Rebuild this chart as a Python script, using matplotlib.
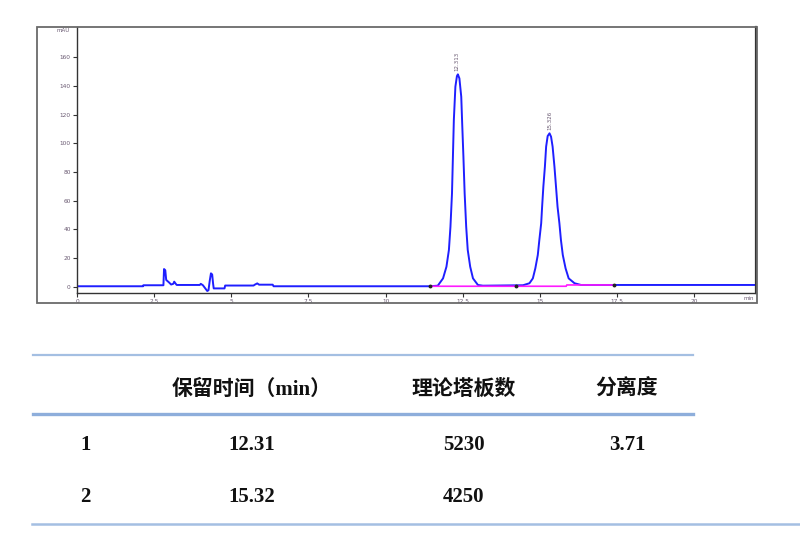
import matplotlib
matplotlib.use("Agg")
import matplotlib.pyplot as plt
from matplotlib.lines import Line2D
from matplotlib.patches import Rectangle

# ---------------- data ----------------
trace_t = [0.0, 2.14, 2.15, 2.80, 2.82, 2.86, 2.89, 2.98, 3.05, 3.12, 3.15, 3.20, 3.23,
           3.98, 4.01, 4.08, 4.15, 4.22, 4.26, 4.30, 4.34, 4.38, 4.41, 4.43, 4.78, 4.80,
           5.72, 5.76, 5.84, 5.90, 6.34, 6.37, 11.44,
           11.69, 11.86, 11.97, 12.05, 12.10, 12.15, 12.18, 12.21, 12.26, 12.31, 12.34,
           12.39, 12.45, 12.48, 12.52, 12.56, 12.61, 12.66, 12.74, 12.83, 12.99, 13.15,
           14.45, 14.66, 14.77, 14.85, 14.93, 14.98, 15.04, 15.07, 15.11, 15.16, 15.20,
           15.25, 15.31, 15.36, 15.41, 15.47, 15.52, 15.57, 15.63, 15.68, 15.74, 15.83,
           15.93, 16.12, 16.33, 22.0]
trace_a = [0.3, 0.3, 1.0, 1.0, 12.3, 11.5, 4.7, 3.0, 1.5, 2.0, 3.5, 2.0, 1.2,
           1.2, 2.0, 1.0, -1.0, -3.0, -2.5, 4.0, 9.3, 8.5, 2.0, -1.2, -1.2, 0.8,
           0.8, 1.4, 2.3, 1.4, 1.4, 0.3, 0.3,
           0.7, 5.8, 13.9, 25.6, 41.8, 65.1, 90.6, 116.2, 139.4, 146.8, 148.0,
           145.2, 132.4, 113.9, 90.6, 65.1, 41.8, 25.6, 13.9, 5.8, 1.2, 0.7,
           1.0, 2.4, 5.8, 12.8, 22.1, 32.5, 44.2, 55.7, 69.7, 83.6, 97.6,
           105.0, 106.9, 104.5, 97.6, 83.6, 69.7, 55.7, 44.2, 32.5, 22.1, 12.8,
           5.8, 2.4, 1.2, 1.2]

baseline_t = [11.44, 14.23, 15.85, 15.87, 17.41]
baseline_a = [0.3, 0.3, 0.3, 1.2, 1.2]
marker_t = [11.44, 14.23, 17.41]
marker_a = [0.3, 0.3, 1.2]

peak_t = [12.31, 15.31]
peak_a = [148.0, 106.9]
peak_labels = ["12.313", "15.326"]

x_ticks = [0, 2.5, 5, 7.5, 10, 12.5, 15, 17.5, 20]
x_tick_labels = ["0", "2.5", "5", "7.5", "10", "12.5", "15", "17.5", "20"]
y_ticks = [0, 20, 40, 60, 80, 100, 120, 140, 160]
y_tick_labels = ["0", "20", "40", "60", "80", "100", "120", "140", "160"]

headers = ["保留时间（min）", "理论塔板数", "分离度"]
row_ids = ["1", "2"]
retention = ["12.31", "15.32"]
plates = ["5230", "4250"]
resolution = ["3.71", ""]

# ---------------- figure ----------------
W, H = 800, 545
fig = plt.figure(figsize=(8, 5.45), dpi=100)
fig.patch.set_facecolor("white")

def fx(px):
    return px / W

def fy(py):
    return 1 - py / H

# outer frame of chromatogram
fig.patches.append(Rectangle((fx(37), fy(303)), fx(757) - fx(37), fy(27) - fy(303),
                             transform=fig.transFigure, fill=False,
                             edgecolor="#6a6a6a", linewidth=1.3, zorder=0))

ax = fig.add_axes([fx(77), fy(293), fx(756) - fx(77), fy(27) - fy(293)])
ax.set_xlim(0, 22)
ax.set_ylim(-4.4, 181)
ax.plot(trace_t, trace_a, color="#1f1fff", linewidth=1.4, zorder=2)
ax.plot(baseline_t, baseline_a, color="#ff1aff", linewidth=1.2, zorder=3)
ax.plot(marker_t, marker_a, linestyle="none", marker="o", markersize=1.8,
        color="#222222", zorder=4)
for t, a, lab in zip(peak_t, peak_a, peak_labels):
    ax.text(t, a + 2, lab, rotation=90, ha="center", va="bottom",
            fontsize=4, color="#6a5a72")

ax.set_xticks(x_ticks)
ax.set_xticklabels(x_tick_labels)
ax.set_yticks(y_ticks)
ax.set_yticklabels(y_tick_labels)
ax.tick_params(axis="both", labelsize=4.2, colors="#333333", labelcolor="#6a5a72",
               length=3, width=0.8, pad=1.5)
ax.spines["top"].set_visible(False)
ax.spines["left"].set_color("#333333")
ax.spines["bottom"].set_color("#333333")
ax.spines["right"].set_color("#333333")
ax.spines["right"].set_linewidth(1.6)
ax.spines["left"].set_linewidth(1.0)
ax.spines["bottom"].set_linewidth(1.0)

fig.text(fx(70), fy(30), "mAU", ha="right", va="center", fontsize=4, color="#6a5a72")
fig.text(fx(754), fy(299), "min", ha="right", va="center", fontsize=4, color="#6a5a72")

# ---------------- table ----------------
line_color = "#a4bfe2"
fig.add_artist(Line2D([fx(33), fx(693)], [fy(355), fy(355)], transform=fig.transFigure,
                      color=line_color, linewidth=1.6))
fig.add_artist(Line2D([fx(33), fx(693)], [fy(414), fy(414)], transform=fig.transFigure,
                      color="#8eaedb", linewidth=2.4))
fig.add_artist(Line2D([fx(32), fx(800)], [fy(524), fy(524)], transform=fig.transFigure,
                      color=line_color, linewidth=1.8))

fam = ["Liberation Serif", "Noto Sans CJK SC"]
col_x = [252, 464, 627]
for cx, h in zip(col_x, headers):
    fig.text(fx(cx), fy(390), h, ha="center", va="center", fontsize=15,
             fontweight="bold", family=fam, color="#111111")

row_y = [445, 497]
for ry, rid, rt, pl, rs in zip(row_y, row_ids, retention, plates, resolution):
    fig.text(fx(80), fy(ry), rid, ha="left", va="center", fontsize=15,
             fontweight="bold", family=fam, color="#111111")
    for cx, val in zip(col_x, [rt, pl, rs]):
        if val:
            fig.text(fx(cx), fy(ry), val, ha="center", va="center", fontsize=15,
                     fontweight="bold", family=fam, color="#111111")

fig.savefig("out.png", dpi=100, facecolor="white")
